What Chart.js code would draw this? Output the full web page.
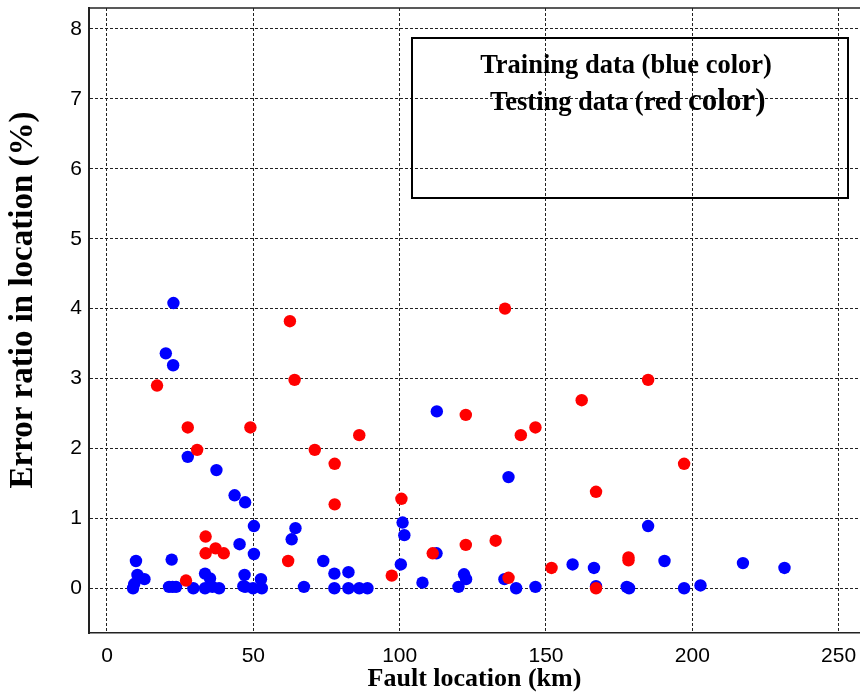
<!DOCTYPE html>
<html>
<head>
<meta charset="utf-8">
<script src="https://cdn.jsdelivr.net/npm/chart.js@4.4.0/dist/chart.umd.min.js"></script>
<style>
html,body{margin:0;padding:0;background:#fff;overflow:hidden;}
#c{display:block;}
</style>
</head>
<body>
<canvas id="c" width="860" height="692" style="width:860px;height:692px;"></canvas>
<script>
// ---- Data ----
const trainX = [22.7,20.1,22.6,27.6,37.4,43.6,47.2,50.2,50.2,45.3,64.4,63.1,73.9,77.7,82.5,77.7,82.5,86.2,89.0,67.3,
                101.0,101.6,100.4,107.8,9.9,10.4,12.8,9.3,8.9,22.1,21.2,22.4,23.6,29.5,33.5,35.2,33.5,36.0,38.3,47.0,
                46.6,47.2,49.9,52.6,52.9,112.6,112.7,137.2,184.9,190.5,217.3,231.5,159.1,166.4,122.0,122.7,120.1,135.8,139.8,146.4,
                167.1,177.6,178.4,197.2,202.8];
const trainY = [4.08,3.36,3.19,1.88,1.69,1.33,1.23,0.89,0.49,0.63,0.86,0.70,0.39,0.21,0.23,0,0,0,0,0.02,
                0.94,0.76,0.34,0.08,0.39,0.19,0.13,0.06,0,0.41,0.02,0.02,0.02,0,0.21,0.14,0,0.02,0,0.19,
                0.03,0.02,0,0.13,0,0.50,2.53,1.59,0.89,0.39,0.36,0.29,0.34,0.29,0.20,0.13,0.02,0.13,0,0.02,
                0.03,0.02,0,0,0.04];
const testX = [62.5,136.0,17.1,27.6,30.8,49.0,64.1,71.0,86.2,77.8,77.8,100.6,97.3,61.9,33.7,33.7,37.1,39.9,27.0,111.3,
               122.6,141.4,146.4,162.2,184.9,197.2,167.1,122.6,132.8,151.9,178.2,178.2,137.2,167.1];
const testY = [3.82,4.00,2.90,2.30,1.98,2.30,2.98,1.98,2.19,1.78,1.20,1.28,0.18,0.39,0.74,0.50,0.57,0.50,0.11,0.50,
               2.48,2.19,2.30,2.69,2.98,1.78,1.38,0.62,0.68,0.29,0.44,0.40,0.15,0];
const xTicks = [0,50,100,150,200,250];
const yTicks = [0,1,2,3,4,5,6,7,8];
const xTitle = 'Fault location (km)';
const yTitle = 'Error ratio in location (%)';
const legendLine1 = 'Training data (blue color)';
const legendLine2a = 'Testing data (red ';
const legendLine2b = 'color)';

const toPts = (xs, ys) => xs.map((x, i) => ({x: x, y: ys[i]}));
const SERIF = '"Liberation Serif", "Times New Roman", serif';

const decor = {
  id: 'decor',
  afterDraw(chart) {
    const {ctx, chartArea: a} = chart;
    ctx.save();
    // top frame line
    ctx.strokeStyle = '#222';
    ctx.lineWidth = 1.5;
    ctx.beginPath();
    ctx.moveTo(a.left, a.top); ctx.lineTo(a.right, a.top);
    ctx.stroke();
    // legend box
    const bx = 412, by = 38, bw = 436, bh = 160;
    ctx.lineWidth = 2;
    ctx.strokeStyle = '#000';
    ctx.strokeRect(bx, by, bw, bh);
    ctx.fillStyle = '#000';
    ctx.textBaseline = 'alphabetic';
    ctx.textAlign = 'center';
    ctx.font = 'bold 26.5px ' + SERIF;
    ctx.fillText(legendLine1, 626, 73);
    ctx.textAlign = 'left';
    ctx.fillText(legendLine2a, 490, 110);
    const w = ctx.measureText(legendLine2a).width;
    ctx.font = 'bold 31px ' + SERIF;
    ctx.fillText(legendLine2b, 490 + w, 110);
    // y axis title
    ctx.translate(23, 300);
    ctx.rotate(-Math.PI / 2);
    ctx.textAlign = 'center';
    ctx.textBaseline = 'middle';
    ctx.font = 'bold 33px ' + SERIF;
    ctx.fillText(yTitle, 0, 0);
    ctx.restore();
  }
};

const gridOpts = { color: '#222', lineWidth: 1, drawTicks: false };

new Chart(document.getElementById('c'), {
  type: 'scatter',
  data: {
    datasets: [
      {label: 'Training data', data: toPts(trainX, trainY), backgroundColor: '#0000ff', borderWidth: 0, pointRadius: 6.2, order: 1},
      {label: 'Testing data', data: toPts(testX, testY), backgroundColor: '#ff0000', borderWidth: 0, pointRadius: 6.2, order: 0}
    ]
  },
  options: {
    responsive: false,
    maintainAspectRatio: false,
    devicePixelRatio: 1,
    animation: false,
    events: [],
    layout: {autoPadding: false, padding: {left: 0, right: 0, top: 8, bottom: 0}},
    plugins: {legend: {display: false}, tooltip: {enabled: false}},
    scales: {
      x: {
        type: 'linear',
        min: -6.15, max: 257.3,
        afterBuildTicks: s => { s.ticks = xTicks.map(v => ({value: v})); },
        afterFit: s => { s.height = 59; s.paddingLeft = 0; s.paddingRight = 0; },
        grid: Object.assign({}, gridOpts),
        border: {display: true, color: '#222', width: 1.5, dash: [3, 2]},
        ticks: {color: '#000', font: {family: '"Liberation Sans", Arial, sans-serif', size: 21}, padding: 11, maxRotation: 0, autoSkip: false},
        title: {display: true, text: xTitle, color: '#000', font: {family: SERIF, size: 26, weight: 'bold', lineHeight: 1}, padding: {top: 0, bottom: 0}}
      },
      y: {
        type: 'linear',
        min: -0.64, max: 8.3,
        afterBuildTicks: s => { s.ticks = yTicks.map(v => ({value: v})); },
        afterFit: s => { s.width = 89; s.paddingTop = 0; s.paddingBottom = 0; },
        grid: Object.assign({}, gridOpts),
        border: {display: true, color: '#222', width: 2, dash: [3, 2]},
        ticks: {color: '#000', font: {family: '"Liberation Sans", Arial, sans-serif', size: 21}, padding: 7, autoSkip: false},
        title: {display: false}
      }
    }
  },
  plugins: [decor]
});
</script>
</body>
</html>
